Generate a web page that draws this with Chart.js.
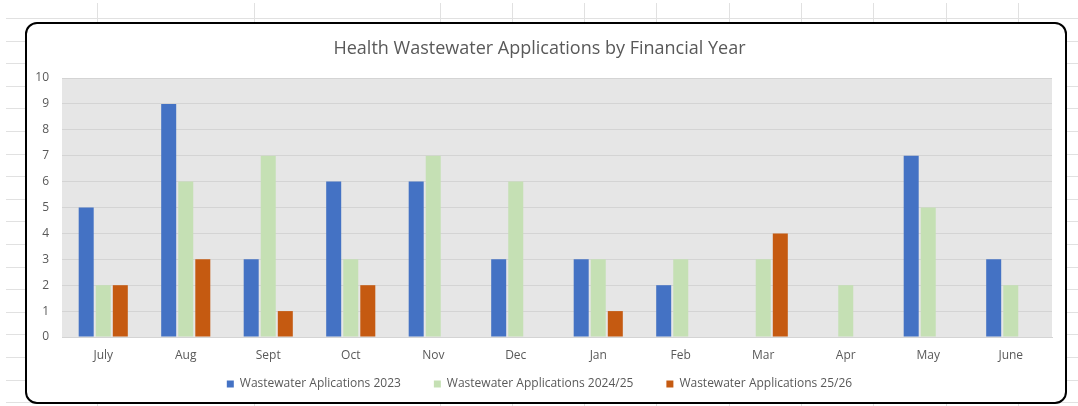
<!DOCTYPE html>
<html>
<head>
<meta charset="utf-8">
<script src="https://cdn.jsdelivr.net/npm/chart.js@4"></script>
<style>
  html, body { margin: 0; padding: 0; }
  body {
    width: 1078px; height: 406px; overflow: hidden; position: relative;
    background: #fff;
  }
  #sheet { position: absolute; left: 0; top: 0; width: 1078px; height: 406px; }
  #box {
    position: absolute; left: 25px; top: 22px; width: 1038px; height: 378px;
    border: 2px solid #000; border-radius: 12px; background: #fff;
  }
  #box canvas { display: block; }
</style>
</head>
<body>
<canvas id="sheet" width="1078" height="406"></canvas>
<div id="box"><canvas id="wastewaterChart" width="1038" height="378"></canvas></div>
<script>
// Chart data
var months = ['July', 'Aug', 'Sept', 'Oct', 'Nov', 'Dec', 'Jan', 'Feb', 'Mar', 'Apr', 'May', 'June'];
var apps2023 = [5, 9, 3, 6, 6, 3, 3, 2, 0, 0, 7, 3];
var apps2425 = [2, 6, 7, 3, 7, 6, 3, 3, 3, 2, 5, 2];
var apps2526 = [2, 3, 1, 2, 0, 0, 1, 0, 4, 0, 0, 0];
var yTicks = [0, 1, 2, 3, 4, 5, 6, 7, 8, 9, 10];

// Spreadsheet grid behind the chart
var sheet = document.getElementById('sheet').getContext('2d');
var colLines = [97, 254, 440, 512, 584, 656, 729, 801, 873, 946, 1018];
sheet.strokeStyle = '#e1e1e1';
sheet.lineWidth = 1;
for (var y = 18; y < 406; y += 22.6) {
    sheet.beginPath();
    sheet.moveTo(6, Math.round(y) + 0.5);
    sheet.lineTo(1078, Math.round(y) + 0.5);
    sheet.stroke();
}
colLines.forEach(function (x) {
    sheet.beginPath();
    sheet.moveTo(x + 0.5, 3);
    sheet.lineTo(x + 0.5, 406);
    sheet.stroke();
});

// grey plot area
var plotBackground = {
    id: 'plotBackground',
    beforeDraw: function (chart) {
        var a = chart.chartArea;
        var ctx = chart.ctx;
        ctx.save();
        ctx.fillStyle = '#e6e6e6';
        ctx.fillRect(a.left, a.top, a.right - a.left, a.bottom - a.top);
        ctx.restore();
    }
};

var font = "'Open Sans', sans-serif";
var ctx = document.getElementById('wastewaterChart').getContext('2d');
var wastewaterChart = new Chart(ctx, {
    type: 'bar',
    data: {
        labels: months,
        datasets: [{
            label: 'Wastewater Aplications 2023',
            data: apps2023,
            backgroundColor: '#4472c4'
        }, {
            label: 'Wastewater Applications 2024/25',
            data: apps2425,
            backgroundColor: '#c5e0b4'
        }, {
            label: 'Wastewater Applications 25/26',
            data: apps2526,
            backgroundColor: '#c55a11'
        }]
    },
    options: {
        responsive: false,
        animation: false,
        layout: { padding: { left: 0, right: 13, top: 0, bottom: 2 } },
        datasets: {
            bar: { categoryPercentage: 0.62, barPercentage: 0.88 }
        },
        scales: {
            x: {
                grid: { display: false, drawTicks: false },
                border: { display: true, color: '#d4d4d4' },
                ticks: { color: '#595959', font: { family: font, size: 12 }, padding: 11, maxRotation: 0 },
                afterFit: function (scale) {
                    // thin axis box so the legend can sit close; let labels draw past it
                    scale.height = 8;
                    scale._computeLabelArea = function () { return undefined; };
                }
            },
            y: {
                min: 0,
                max: 10,
                afterBuildTicks: function (scale) {
                    scale.ticks = yTicks.map(function (v) { return { value: v }; });
                },
                grid: { color: '#d4d4d4', drawTicks: false },
                border: { display: false },
                ticks: { color: '#595959', font: { family: font, size: 12 }, padding: 13 },
                afterFit: function (scale) { scale.width = 35; }
            }
        },
        plugins: {
            title: {
                display: true,
                text: 'Health Wastewater Applications by Financial Year',
                color: '#595959',
                font: { family: font, size: 18, weight: 'normal' },
                padding: { top: 14, bottom: 18.4 }
            },
            legend: {
                position: 'bottom',
                labels: {
                    boxWidth: 7,
                    boxHeight: 7,
                    padding: 33,
                    color: '#595959',
                    font: { family: font, size: 12 }
                }
            },
            tooltip: { enabled: false }
        }
    },
    plugins: [plotBackground]
});
</script>
</body>
</html>
